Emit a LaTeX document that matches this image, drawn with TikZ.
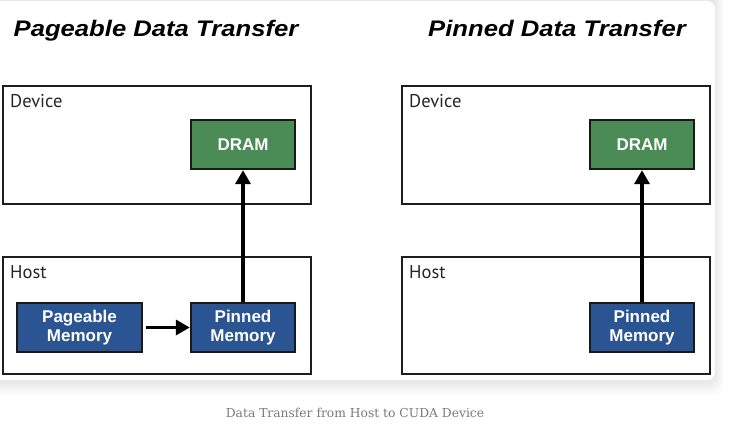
\documentclass[tikz,border=0pt]{standalone}
\usepackage{fontspec}
\setmainfont{Liberation Sans}
\newfontfamily\labfont{PT Sans}
\newfontfamily\capfont{DejaVu Serif}
\usetikzlibrary{arrows.meta}
\definecolor{boxgreen}{HTML}{4B8B55}
\definecolor{boxblue}{HTML}{2B5592}
\definecolor{edge}{HTML}{1E1E1E}
\definecolor{capgray}{HTML}{7A7A7A}
\tikzset{
  outerbox/.style={draw=edge, line width=2pt},
  membox/.style={draw=black!90, line width=2.4pt, text=white, align=center,
    minimum width=104pt, minimum height=49pt, inner sep=0pt,
    font=\fontsize{17}{19.5}\selectfont\bfseries},
  greenbox/.style={membox, fill=boxgreen},
  bluebox/.style={membox, fill=boxblue},
  arealabel/.style={anchor=base west, inner sep=0pt, font=\labfont\fontsize{18.5}{20}\selectfont, text=black!85},
  titletext/.style={inner sep=0pt, anchor=base, font=\fontsize{22.5}{24}\selectfont\bfseries\itshape},
  flow/.style={line width=3.8pt, -{Triangle[length=14pt,width=15pt]}},
}
\begin{document}
\begin{tikzpicture}[x=1pt,y=-1pt]
\useasboundingbox (0,0) rectangle (731,431);
\fill[white] (0,0) rectangle (731,431);
% card shadow
\foreach \i in {1,...,12}{
  \fill[black, opacity=0.007, rounded corners=10pt] (-30,-10) rectangle (714+\i*0.8,380+\i*1.3);
}
\fill[white, rounded corners=8pt] (-30,1) rectangle (715,380);
% titles
\node[titletext] (t1) at (156,36) {\scalebox{1.14}[1]{Pageable Data Transfer}};
\node[titletext] (t2) at (557,36) {\scalebox{1.14}[1]{Pinned Data Transfer}};
% left panel
\node[outerbox, minimum width=308pt, minimum height=118pt, inner sep=0pt] (dev1) at (157,145) {};
\node[outerbox, minimum width=308pt, minimum height=117pt, inner sep=0pt] (host1) at (157,315.5) {};
\node[arealabel] (dl1) at (10,107) {Device};
\node[arealabel] (hl1) at (10,278) {Host};
\node[greenbox] (dram1) at (243,144.5) {DRAM};
\node[bluebox, minimum width=125pt] (page1) at (79.5,327.5) {Pageable\\Memory};
\node[bluebox] (pin1) at (243,327.5) {Pinned\\Memory};
\draw[flow] ([xshift=3pt]page1.east) -- (pin1.west);
\draw[flow] (pin1.north) -- (dram1.south);
% right panel
\node[outerbox, minimum width=308pt, minimum height=118pt, inner sep=0pt] (dev2) at (556,145) {};
\node[outerbox, minimum width=308pt, minimum height=117pt, inner sep=0pt] (host2) at (556,315.5) {};
\node[arealabel] (dl2) at (409,107) {Device};
\node[arealabel] (hl2) at (409,278) {Host};
\node[greenbox] (dram2) at (642,144.5) {DRAM};
\node[bluebox] (pin2) at (642,327.5) {Pinned\\Memory};
\draw[flow] (pin2.north) -- (dram2.south);
% caption
\node[inner sep=0pt, anchor=base, text=capgray, font=\capfont\fontsize{12.3}{14}\selectfont] (cap) at (355,417) {Data Transfer from Host to CUDA Device};
\end{tikzpicture}
\end{document}
